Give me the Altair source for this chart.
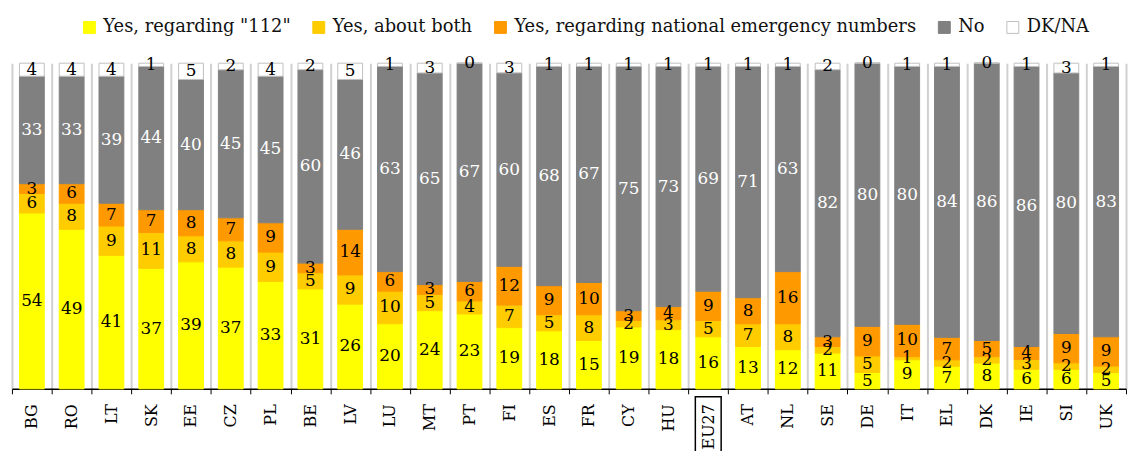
import altair as alt
import pandas as pd

countries = ["BG", "RO", "LT", "SK", "EE", "CZ", "PL", "BE", "LV", "LU", "MT", "PT", "FI", "ES",
             "FR", "CY", "HU", "EU27", "AT", "NL", "SE", "DE", "IT", "EL", "DK", "IE", "SI", "UK"]
yes_112 = [54, 49, 41, 37, 39, 37, 33, 31, 26, 20, 24, 23, 19, 18, 15, 19, 18, 16, 13, 12, 11, 5, 9, 7, 8, 6, 6, 5]
yes_both = [6, 8, 9, 11, 8, 8, 9, 5, 9, 10, 5, 4, 7, 5, 8, 2, 3, 5, 7, 8, 2, 5, 1, 2, 2, 3, 2, 2]
yes_national = [3, 6, 7, 7, 8, 7, 9, 3, 14, 6, 3, 6, 12, 9, 10, 3, 4, 9, 8, 16, 3, 9, 10, 7, 5, 4, 9, 9]
no = [33, 33, 39, 44, 40, 45, 45, 60, 46, 63, 65, 67, 60, 68, 67, 75, 73, 69, 71, 63, 82, 80, 80, 84, 86, 86, 80, 83]
dk_na = [4, 4, 4, 1, 5, 2, 4, 2, 5, 1, 3, 0, 3, 1, 1, 1, 1, 1, 1, 1, 2, 0, 1, 1, 0, 1, 3, 1]

series = ['Yes, regarding "112"', "Yes, about both", "Yes, regarding national emergency numbers", "No", "DK/NA"]
fills = ["#FFFF00", "#FFCC00", "#FF9900", "#808080", "#FFFFFF"]
strokes = ["#FFFF00", "#FFCC00", "#FF9900", "#808080", "#BFBFBF"]

rows = []
for s_i, (name, vals) in enumerate(zip(series, [yes_112, yes_both, yes_national, no, dk_na])):
    for c, v in zip(countries, vals):
        rows.append({"country": c, "series": name, "idx": s_i, "value": v})
df = pd.DataFrame(rows)

FONT = "DejaVu Serif"

xenc = alt.X(
    "country:N",
    sort=countries,
    scale=alt.Scale(paddingInner=0, paddingOuter=0),
    axis=alt.Axis(
        title=None, labelAngle=270, labelFont=FONT, labelFontSize=16, labelColor="black",
        tickBand="extent", tickColor="black", tickSize=5, domainColor="black", domainWidth=1.5,
        grid=True, gridColor="#D0D0D0", gridWidth=2, labelPadding=10,
        labelAlign="right", labelBaseline="middle",
    ),
)

base = alt.Chart(df).transform_stack(
    stack="value", groupby=["country"], as_=["y0", "y1"],
    sort=[alt.SortField("idx", order="ascending")], offset="normalize",
).transform_calculate(mid="(datum.y0 + datum.y1) / 2")

legend = alt.Legend(
    title=None, orient="none", legendX=69, legendY=-45, direction="horizontal", columns=5,
    symbolType="square", symbolSize=144, symbolStrokeWidth=1, labelFont=FONT, labelFontSize=18,
    labelColor="#111111", columnPadding=19, labelOffset=5, labelLimit=0,
)

bars = base.mark_bar(width=25, strokeWidth=1).encode(
    x=xenc,
    y=alt.Y("y0:Q", scale=alt.Scale(domain=[0, 1], nice=False), axis=None),
    y2="y1:Q",
    color=alt.Color("series:N", sort=series, scale=alt.Scale(domain=series, range=fills), legend=legend),
    stroke=alt.Stroke("series:N", sort=series, scale=alt.Scale(domain=series, range=strokes), legend=legend),
)

labels = base.mark_text(font=FONT, fontSize=17, baseline="middle", align="center").encode(
    x=alt.X("country:N", sort=countries),
    y=alt.Y("mid:Q"),
    text=alt.Text("value:Q"),
    color=alt.condition(alt.datum.series == "No", alt.value("white"), alt.value("black")),
)

box_df = pd.DataFrame({"country": ["EU27"]})
box = alt.Chart(box_df).mark_bar(width=26, filled=False, stroke="black", strokeWidth=1.5, clip=False).encode(
    x=alt.X("country:N", sort=countries),
    y=alt.value(336),
    y2=alt.value(400),
)

chart = alt.layer(bars, labels, box).properties(
    width=1122, height=328,
    autosize=alt.AutoSizeParams(type="none"),
    padding={"left": 4, "top": 54, "right": 2, "bottom": 61},
).configure_view(stroke=None)

chart.save("out.html", embed_options={"renderer": "svg", "actions": False})
